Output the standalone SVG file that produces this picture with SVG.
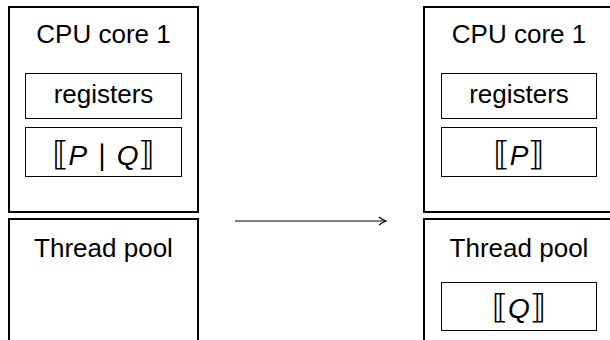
<svg xmlns="http://www.w3.org/2000/svg" width="610" height="340" viewBox="0 0 610 340">
  <style>
    .outer { fill: #fff; stroke: #000; stroke-width: 2; }
    .inner { fill: #fff; stroke: #000; stroke-width: 1; }
    .lbl { font-family: "Liberation Sans", "DejaVu Sans", sans-serif; font-size: 26px; fill: #000; text-anchor: middle; }
    .math { font-family: "Liberation Sans", "DejaVu Sans", sans-serif; font-size: 28px; fill: #000; text-anchor: middle; }
    .br { font-family: "DejaVu Sans", sans-serif; font-size: 33px; }
    .it { font-style: italic; }
    .bar { font-family: "DejaVu Sans", sans-serif; font-size: 28px; }
    .conn { stroke: #000; stroke-width: 1.2; fill: none; }
  </style>
  <defs>
    <marker id="head" viewBox="0 0 10 10" refX="9" refY="5" markerWidth="10" markerHeight="10" markerUnits="userSpaceOnUse" orient="auto">
      <path d="M2,1 Q6,4 9,5 Q6,6 2,9" fill="none" stroke="#000" stroke-width="1.2"/>
    </marker>
  </defs>
  <rect width="610" height="340" fill="#fff"/>

  <!-- before: core runs P | Q -->
  <g id="core-before">
    <rect class="outer" x="9" y="7" width="189" height="205"/>
    <text class="lbl" x="103.5" y="43">CPU core 1</text>
  </g>
  <g id="registers-before">
    <rect class="inner" x="25.5" y="73.5" width="156" height="45"/>
    <text class="lbl" x="103.5" y="103">registers</text>
  </g>
  <g id="proc-before">
    <rect class="inner" x="25.5" y="127.5" width="156" height="49"/>
    <text class="math" x="103.5" y="165"><tspan class="br">⟦</tspan><tspan class="it">P</tspan> <tspan class="bar">∣</tspan> <tspan class="it">Q</tspan><tspan class="br">⟧</tspan></text>
  </g>
  <g id="pool-before">
    <rect class="outer" x="9" y="219" width="189" height="140"/>
    <text class="lbl" x="103.5" y="257">Thread pool</text>
  </g>

  <!-- after: Q moved into the pool -->
  <g id="core-after">
    <rect class="outer" x="424" y="7" width="190" height="205"/>
    <text class="lbl" x="519" y="43">CPU core 1</text>
  </g>
  <g id="registers-after">
    <rect class="inner" x="441.5" y="73.5" width="155" height="45"/>
    <text class="lbl" x="519" y="103">registers</text>
  </g>
  <g id="proc-after">
    <rect class="inner" x="441.5" y="127.5" width="155" height="49"/>
    <text class="math" x="519" y="165"><tspan class="br">⟦</tspan><tspan class="it">P</tspan><tspan class="br">⟧</tspan></text>
  </g>
  <g id="pool-after">
    <rect class="outer" x="424" y="219" width="190" height="140"/>
    <text class="lbl" x="519" y="257">Thread pool</text>
  </g>
  <g id="task-q">
    <rect class="inner" x="441.5" y="282.5" width="155" height="48"/>
    <text class="math" x="519" y="318"><tspan class="br">⟦</tspan><tspan class="it">Q</tspan><tspan class="br">⟧</tspan></text>
  </g>

  <g id="connectors">
    <line class="conn" x1="235" y1="221" x2="386" y2="221" marker-end="url(#head)"/>
  </g>
</svg>
